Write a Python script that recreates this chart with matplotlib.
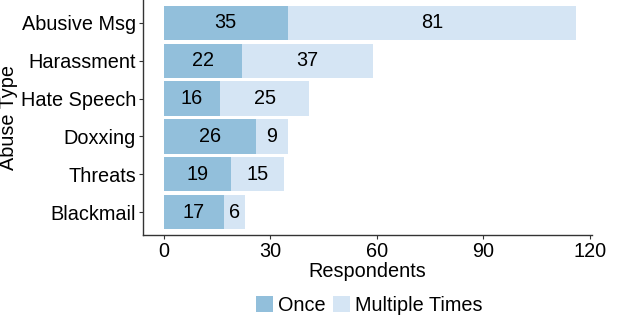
import matplotlib.pyplot as plt
import numpy as np

plt.rcParams['font.family'] = ['Liberation Sans', 'DejaVu Sans']

abuse_types = ['Blackmail', 'Threats', 'Doxxing', 'Hate Speech', 'Harassment', 'Abusive Msg']
once = [17, 19, 26, 16, 22, 35]
multiple = [6, 15, 9, 25, 37, 81]
xticks = [0, 30, 60, 90, 120]

c_once = '#92bfdb'
c_multi = '#d5e5f4'
fs = 14.3

fig = plt.figure(figsize=(6.2, 3.2), dpi=100)
ax = fig.add_axes([0.2306, 0.2656, 0.7242, 0.7344])

y = np.arange(1, len(abuse_types) + 1)
b1 = ax.barh(y, once, height=0.9, color=c_once, label='Once')
b2 = ax.barh(y, multiple, left=once, height=0.9, color=c_multi, label='Multiple Times')

for yi, o, m in zip(y, once, multiple):
    ax.text(o / 2, yi, str(o), ha='center', va='center', fontsize=fs, color='black')
    ax.text(o + m / 2, yi, str(m), ha='center', va='center', fontsize=fs, color='black')

ax.set_xlim(-5.8, 120.6)
ax.set_ylim(0.4, 6.6)
ax.set_yticks(y)
ax.set_yticklabels(abuse_types, fontsize=fs)
ax.set_xticks(xticks)
ax.set_xticklabels([str(t) for t in xticks], fontsize=fs)
ax.tick_params(axis='both', length=3, width=0.8, color='#333333', pad=2, labelcolor='black')

for s in ['top', 'right']:
    ax.spines[s].set_visible(False)
for s in ['left', 'bottom']:
    ax.spines[s].set_color('#333333')
    ax.spines[s].set_linewidth(1.0)

ax.set_xlabel('Respondents', fontsize=fs, labelpad=1)
ax.set_ylabel('Abuse Type', fontsize=fs, labelpad=2)

fig.legend(handles=[b1, b2], loc='center', bbox_to_anchor=(369 / 620, 1 - 305.5 / 320),
           ncol=2, frameon=False, fontsize=fs, handlelength=0.85, handleheight=0.85,
           handletextpad=0.26, columnspacing=0.36, borderpad=0.2)

fig.savefig('out.png', dpi=100)
